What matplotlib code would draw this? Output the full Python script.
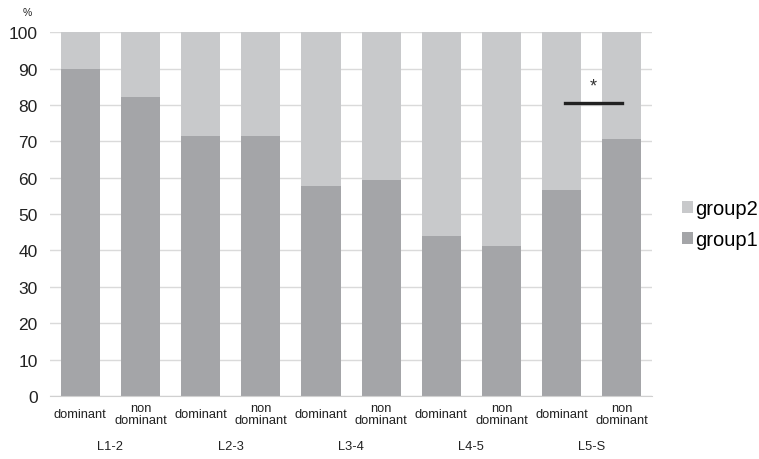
import matplotlib
matplotlib.use("Agg")
import matplotlib.pyplot as plt
import numpy as np

plt.rcParams['font.family'] = ['Liberation Sans', 'DejaVu Sans']

levels = ["L1-2", "L2-3", "L3-4", "L4-5", "L5-S"]
subgroups = ["dominant", "non\ndominant"]
group1 = [89.8, 82.2, 71.4, 71.4, 57.7, 59.3, 44.0, 41.2, 56.6, 70.6]
group2 = [100 - v for v in group1]
sig_level = 80.5  # significance bar between L5-S bars

c1 = "#a4a5a8"
c2 = "#c8c9cb"

fig = plt.figure(figsize=(7.59, 4.60), dpi=100)
ax = fig.add_axes([0.066, 0.137, 0.793, 0.791])

x = np.arange(len(group1))
ax.bar(x, group1, width=0.65, color=c1, label="group1", zorder=2)
ax.bar(x, group2, width=0.65, bottom=group1, color=c2, label="group2", zorder=2)

ax.set_xlim(-0.5, len(group1) - 0.5)
ax.set_ylim(0, 100)
ax.set_yticks(range(0, 101, 10))
ax.tick_params(axis='y', length=0, pad=9, labelsize=12.5, labelcolor="#222222")
ax.tick_params(axis='x', length=0, labelbottom=False)
ax.grid(axis='y', color="#dadada", linewidth=1, zorder=0)
for s in ["top", "right", "left"]:
    ax.spines[s].set_visible(False)
ax.spines["bottom"].set_color("#d0d0d0")

trans = ax.get_xaxis_transform()
for i in x:
    ax.text(i, -0.05, subgroups[i % 2], transform=trans, ha='center', va='center',
            fontsize=9.3, color="#222222", linespacing=1.0)
for j, lab in enumerate(levels):
    ax.text(2 * j + 0.5, -0.137, lab, transform=trans, ha='center', va='center',
            fontsize=9.3, color="#222222")

ax.text(-0.038, 1.055, "%", transform=ax.transAxes, ha='center', va='center',
        fontsize=7.5, color="#222222")

# significance marker
ax.plot([8.05, 9.0], [sig_level, sig_level], color="#222222", linewidth=2.4, zorder=3)
ax.text(8.52, sig_level + 4.8, "*", ha='center', va='center', fontsize=13, color="#333333")

h, l = ax.get_legend_handles_labels()
fig.legend(h[::-1], l[::-1], loc='center left', bbox_to_anchor=(0.875, 0.51),
           frameon=False, fontsize=14.5, handlelength=0.55, handleheight=0.55,
           handletextpad=0.1, labelspacing=0.6)

fig.savefig("out.png", dpi=100)
